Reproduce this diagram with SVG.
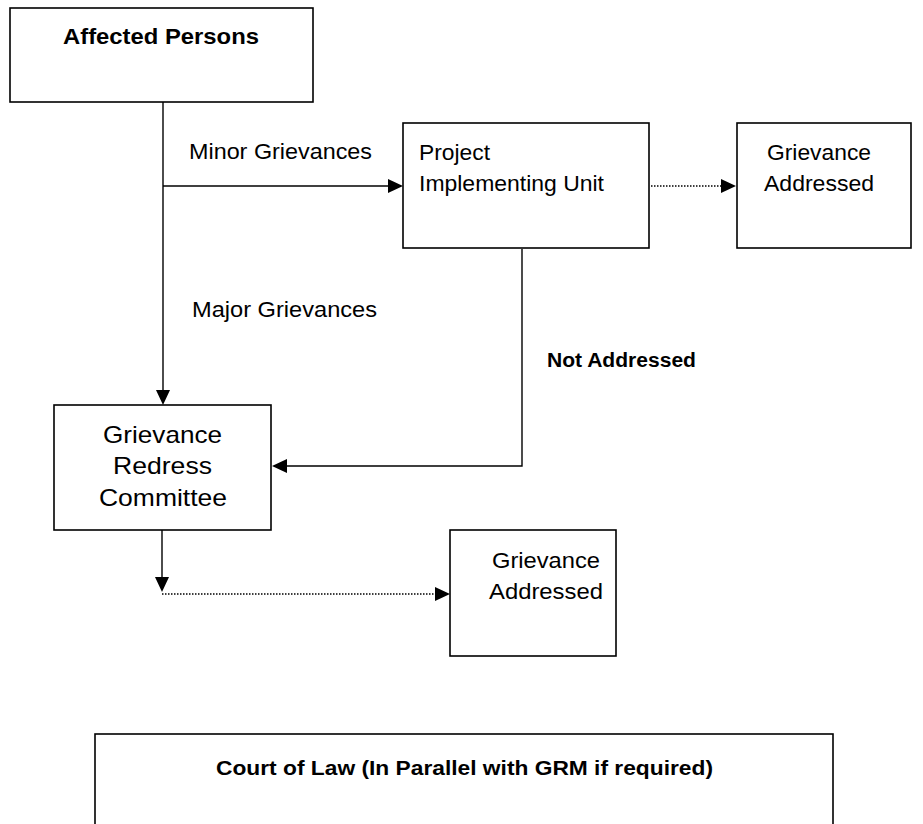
<svg xmlns="http://www.w3.org/2000/svg" width="923" height="824" viewBox="0 0 923 824">
<style>
.box{fill:#fff;stroke:#000;stroke-width:1.6}
.t{font-family:"Liberation Sans",Arial,sans-serif;font-size:22px;fill:#000}
.b{font-weight:bold}
.ln{fill:none;stroke:#000;stroke-width:1.4}
.dot{fill:none;stroke:#000;stroke-width:1.4;stroke-dasharray:1.5 1.5}
.ah{fill:#000;stroke:none}
</style>
<rect width="923" height="824" fill="#fff"/>
<g id="connectors">
<path class="ln" d="M163 102 V391"/>
<path class="ah" d="M156 390 L170 390 L163 405 Z"/>
<path class="ln" d="M163 186 H389"/>
<path class="ah" d="M388 179 L403 186 L388 193 Z"/>
<path class="dot" d="M651 186 H722"/>
<path class="ah" d="M721 179 L736 186 L721 193 Z"/>
<path class="ln" d="M522 249 V466 H286"/>
<path class="ah" d="M287 459 L272 466 L287 473 Z"/>
<path class="ln" d="M162 530 V578"/>
<path class="ah" d="M155 577 L169 577 L162 592 Z"/>
<path class="dot" d="M162 594 H436"/>
<path class="ah" d="M435 587 L450 594 L435 601 Z"/>
</g>
<g id="affected-persons">
<rect class="box" x="10" y="8" width="303" height="94"/>
<text class="t b" x="63" y="44" textLength="196" lengthAdjust="spacingAndGlyphs">Affected Persons</text>
</g>
<text class="t" x="189" y="159" textLength="183" lengthAdjust="spacingAndGlyphs">Minor Grievances</text>
<text class="t" x="192" y="317" textLength="185" lengthAdjust="spacingAndGlyphs">Major Grievances</text>
<text class="t b" x="547" y="367" style="font-size:20px" textLength="149" lengthAdjust="spacingAndGlyphs">Not Addressed</text>
<g id="piu">
<rect class="box" x="403" y="123" width="246" height="125"/>
<text class="t" x="419" y="160" textLength="71" lengthAdjust="spacingAndGlyphs">Project</text>
<text class="t" x="419" y="191" textLength="185" lengthAdjust="spacingAndGlyphs">Implementing Unit</text>
</g>
<g id="grievance-addressed-1">
<rect class="box" x="737" y="123" width="174" height="125"/>
<text class="t" x="767" y="160" textLength="104" lengthAdjust="spacingAndGlyphs">Grievance</text>
<text class="t" x="764" y="191" textLength="110" lengthAdjust="spacingAndGlyphs">Addressed</text>
</g>
<g id="grc">
<rect class="box" x="54" y="405" width="217" height="125"/>
<text class="t" x="103" y="443" style="font-size:24px" textLength="119" lengthAdjust="spacingAndGlyphs">Grievance</text>
<text class="t" x="113" y="474" style="font-size:24px" textLength="99" lengthAdjust="spacingAndGlyphs">Redress</text>
<text class="t" x="99" y="506" style="font-size:24px" textLength="128" lengthAdjust="spacingAndGlyphs">Committee</text>
</g>
<g id="grievance-addressed-2">
<rect class="box" x="450" y="530" width="166" height="126"/>
<text class="t" x="492" y="568" textLength="108" lengthAdjust="spacingAndGlyphs">Grievance</text>
<text class="t" x="489" y="599" textLength="114" lengthAdjust="spacingAndGlyphs">Addressed</text>
</g>
<g id="court">
<rect class="box" x="95" y="734" width="738" height="110"/>
<text class="t b" x="216" y="775" style="font-size:21px" textLength="497" lengthAdjust="spacingAndGlyphs">Court of Law (In Parallel with GRM if required)</text>
</g>
</svg>
